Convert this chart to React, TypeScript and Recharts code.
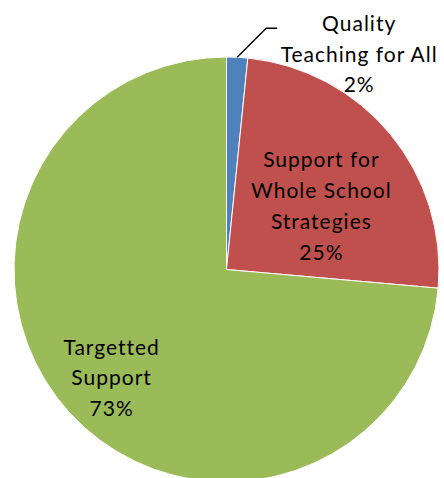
import { PieChart, Pie, Cell } from "recharts";

const categories = ["Quality Teaching for All", "Support for Whole School Strategies", "Targetted Support"];
const shares = [1.6, 24.8, 73.6];
const labelLines = [
  ["Quality", "Teaching for All", "2%"],
  ["Support for", "Whole School", "Strategies", "25%"],
  ["Targetted", "Support", "73%"],
];
const colors = ["#4F81BD", "#C0504D", "#9BBB59"];

const data = categories.map((name, i) => ({ name, value: shares[i], lines: labelLines[i] }));

const RAD = Math.PI / 180;
const LINE_H = 31;
const FONT = "Lato, 'Open Sans', sans-serif";
const FONT_SIZE = 21;

// where inside labels sit: fraction of radius and angle nudge (deg)
const insidePlace: Record<string, { r: number; da: number }> = {
  "Support for Whole School Strategies": { r: 0.536, da: -6 },
  "Targetted Support": { r: 0.745, da: 1 },
};

function Lines({ x, y, lines, lh }: { x: number; y: number; lines: string[]; lh: number }) {
  return (
    <text x={x} y={y} textAnchor="middle" fontFamily={FONT} fontSize={FONT_SIZE} letterSpacing={1} fill="#000">
      {lines.map((l, i) => (
        <tspan key={i} x={x} dy={i === 0 ? 0 : lh}>
          {l}
        </tspan>
      ))}
    </text>
  );
}

// eslint-disable-next-line @typescript-eslint/no-explicit-any
function renderLabel(props: any) {
  const { cx, cy, midAngle, outerRadius, index } = props;
  const lines: string[] = data[index].lines;

  if (index === 0) {
    // outside label with elbow leader line
    const sx = cx + outerRadius * Math.cos(-midAngle * RAD);
    const sy = cy + outerRadius * Math.sin(-midAngle * RAD);
    const ex = sx + 29;
    const ey = sy - 29;
    const tx = ex + 11;
    return (
      <g>
        <polyline points={`${sx},${sy} ${ex},${ey} ${tx},${ey}`} fill="none" stroke="#000" strokeWidth={1.3} />
        <Lines x={tx + 82} y={ey + 3} lines={lines} lh={30.5} />
      </g>
    );
  }

  const place = insidePlace[data[index].name];
  const a = (midAngle + place.da) * RAD;
  const r = outerRadius * place.r;
  const x = cx + r * Math.cos(-a);
  const y = cy + r * Math.sin(-a);
  const lh = index === 1 ? LINE_H : 30.5;
  const startY = y - ((lines.length - 1) * lh) / 2 + 7;
  return <Lines x={x} y={startY} lines={lines} lh={lh} />;
}

export default function App() {
  return (
    <div style={{ position: "absolute", left: 0, top: 0, width: 444, height: 478, background: "#fff" }}>
      <PieChart width={444} height={478} margin={{ top: 0, right: 0, bottom: 0, left: 0 }}>
        <Pie
          data={data}
          dataKey="value"
          nameKey="name"
          cx={226.5}
          cy={269.5}
          outerRadius={212.5}
          startAngle={90}
          endAngle={-270}
          stroke="#fff"
          strokeWidth={1}
          label={renderLabel}
          labelLine={false}
          isAnimationActive={false}
        >
          {data.map((d, i) => (
            <Cell key={d.name} fill={colors[i]} />
          ))}
        </Pie>
      </PieChart>
    </div>
  );
}
